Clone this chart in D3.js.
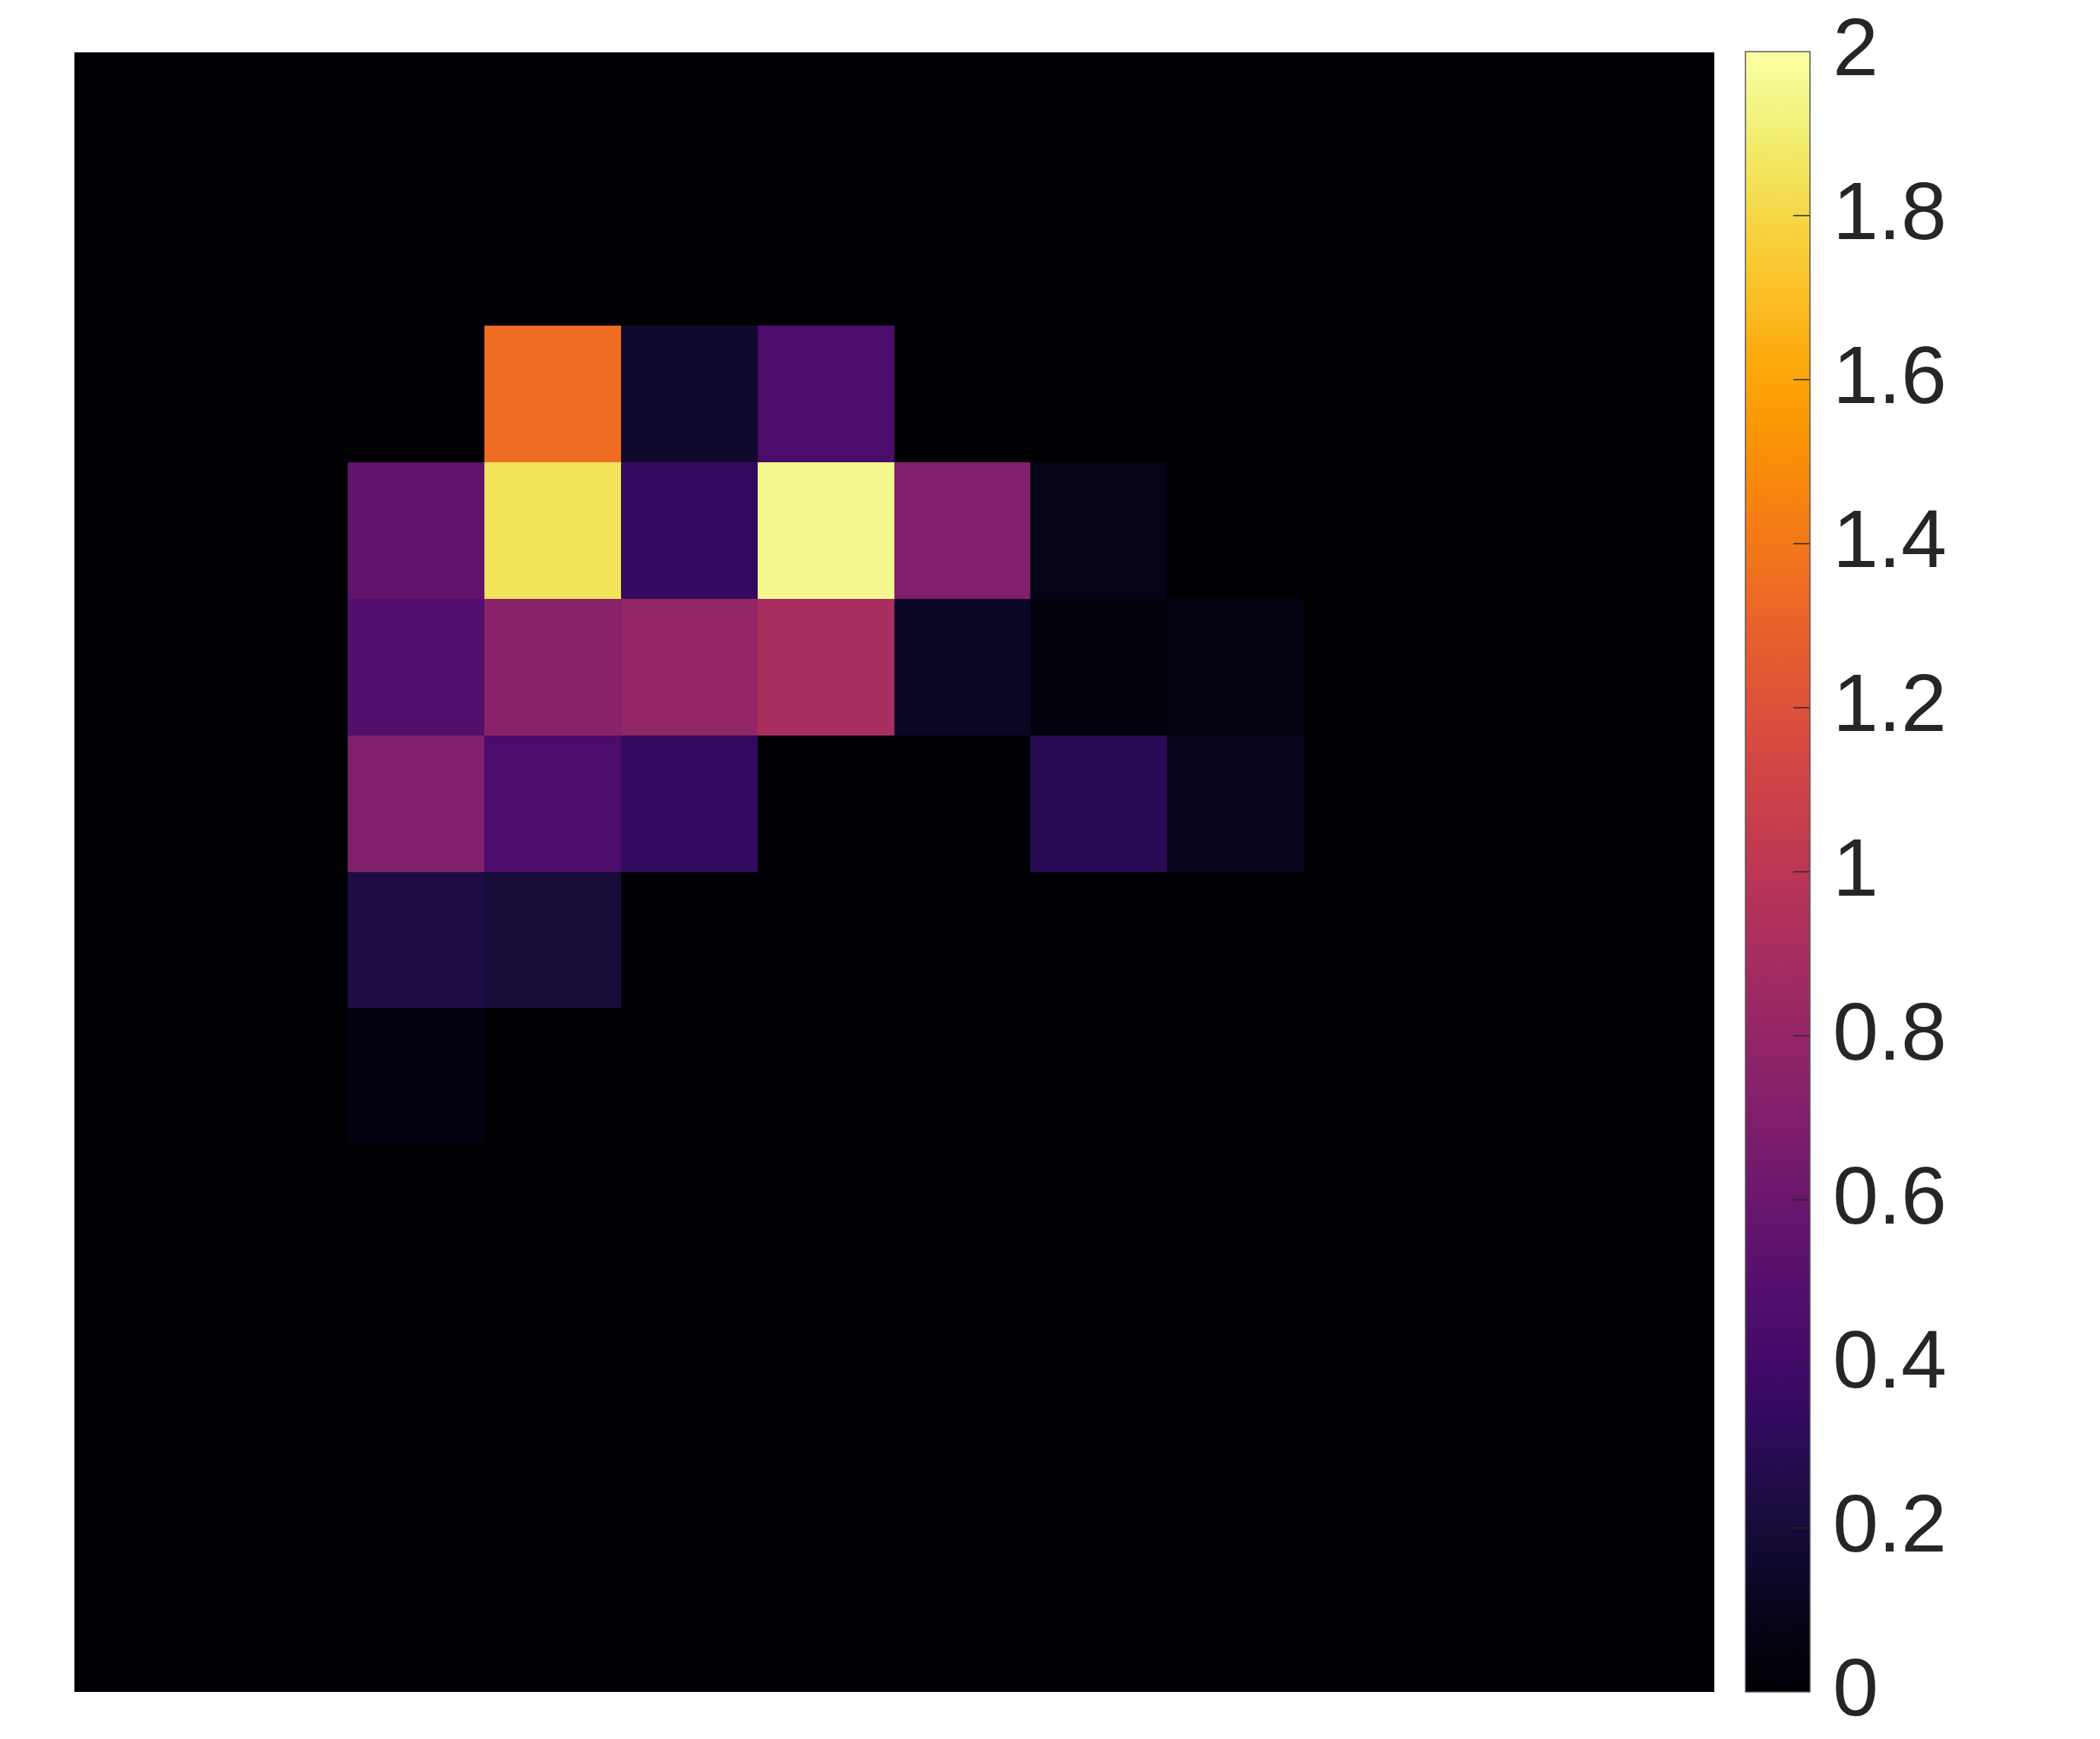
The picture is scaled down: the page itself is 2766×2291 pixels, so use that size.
<!DOCTYPE html>
<html>
<head>
<meta charset="utf-8">
<script src="https://cdn.jsdelivr.net/npm/d3@7"></script>
<style>
  html, body { margin: 0; padding: 0; background: #fff; }
  svg { display: block; }
</style>
</head>
<body>
<script>
// ---- data ----
const rows = d3.range(12);
const cols = d3.range(12);
// non-zero cells: [row, col, value]; all other cells are 0
const cellRows = [2, 2, 2, 3, 3, 3, 3, 3, 3, 4, 4, 4, 4, 4, 4, 4, 5, 5, 5, 5, 5, 6, 6, 7];
const cellCols = [3, 4, 5, 2, 3, 4, 5, 6, 7, 2, 3, 4, 5, 6, 7, 8, 2, 3, 4, 7, 8, 2, 3, 2];
const cellVals = [1.35, 0.16, 0.45, 0.55, 1.85, 0.34, 1.95, 0.71, 0.08, 0.49, 0.75, 0.80, 0.90, 0.13, 0.04, 0.07, 0.71, 0.45, 0.33, 0.29, 0.11, 0.23, 0.20, 0.05];
const colorDomain = [0, 2];
const tickValues = [0, 0.2, 0.4, 0.6, 0.8, 1, 1.2, 1.4, 1.6, 1.8, 2];

// ---- build grid ----
const grid = [];
rows.forEach(r => cols.forEach(c => grid.push({ r, c, v: 0 })));
cellVals.forEach((v, i) => {
  grid[cellRows[i] * cols.length + cellCols[i]].v = v;
});

const W = 2766, H = 2291;
const svg = d3.select("body").append("svg").attr("width", W).attr("height", H);

const x = d3.scaleBand().domain(cols).range([98, 2257]).paddingInner(0).paddingOuter(0);
const y = d3.scaleBand().domain(rows).range([69, 2228]).paddingInner(0).paddingOuter(0);
const color = d3.scaleSequential(d3.interpolateInferno).domain(colorDomain);

svg.append("g").selectAll("rect").data(grid).join("rect")
  .attr("x", d => x(d.c))
  .attr("y", d => y(d.r))
  .attr("width", x.bandwidth() + 0.5)
  .attr("height", y.bandwidth() + 0.5)
  .attr("fill", d => color(d.v))
  .attr("shape-rendering", "crispEdges");

// ---- colorbar ----
const cbX = 2299, cbW = 85, cbTop = 68, cbBot = 2229;
const cy = d3.scaleLinear().domain(colorDomain).range([cbBot, cbTop]);
const defs = svg.append("defs");
const grad = defs.append("linearGradient").attr("id", "cbgrad")
  .attr("x1", 0).attr("y1", 1).attr("x2", 0).attr("y2", 0);
d3.range(0, 1.0001, 0.02).forEach(t => {
  grad.append("stop").attr("offset", t).attr("stop-color", d3.interpolateInferno(t));
});
svg.append("rect").attr("x", cbX).attr("y", cbTop).attr("width", cbW).attr("height", cbBot - cbTop)
  .attr("fill", "url(#cbgrad)");

const tg = svg.append("g");
tg.selectAll("line").data(tickValues.slice(1, -1)).join("line")
  .attr("x1", cbX + cbW - 22).attr("x2", cbX + cbW)
  .attr("y1", d => cy(d)).attr("y2", d => cy(d))
  .attr("stroke", "#262626").attr("stroke-width", 1.5);

svg.append("rect").attr("x", cbX).attr("y", cbTop).attr("width", cbW).attr("height", cbBot - cbTop)
  .attr("fill", "none").attr("stroke", "#555").attr("stroke-width", 1.5);

tg.selectAll("text").data(tickValues).join("text")
  .attr("x", 2414)
  .attr("y", d => cy(d) + 31)
  .attr("font-family", "Liberation Sans, Arial, sans-serif")
  .attr("font-size", 108)
  .attr("fill", "#262626")
  .text(d => d3.format("~g")(d));
</script>
</body>
</html>
